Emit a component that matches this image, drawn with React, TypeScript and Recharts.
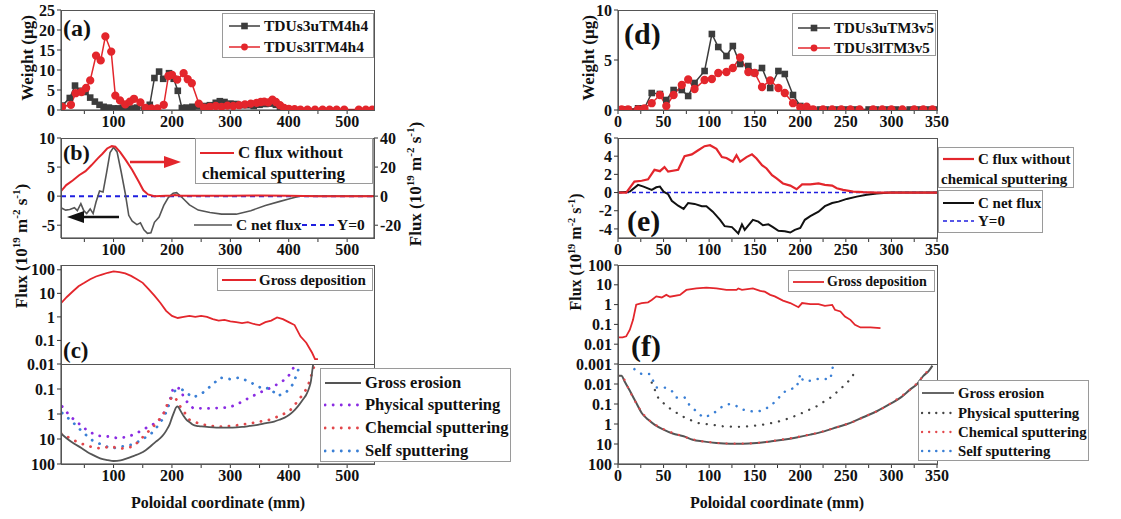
import React from 'react'
import { LineChart, Line, XAxis, YAxis } from 'recharts'

// ---------- panel (a): collected weight ----------
const aBlackX = [12, 25, 34, 43, 52, 60, 68, 76, 83, 92, 100, 108, 116, 125, 133, 140, 153, 162, 170, 178, 185, 195, 203, 210, 217, 225, 235, 245, 255, 265, 275, 282, 290, 300, 310, 320, 330, 340, 350, 360, 370, 378, 385, 395]
const aBlackY = [1.1, 3.0, 6.1, 4.8, 4.5, 3.1, 2.1, 1.3, 0.8, 0.6, 0.4, 0.4, 0.6, 0.3, 0.4, 0.6, 0.4, 1.3, 8.0, 9.6, 7.8, 9.2, 7.8, 4.8, 0.5, 0.6, 0.8, 0.9, 1.0, 1.2, 1.8, 2.2, 2.0, 1.6, 1.5, 1.2, 1.2, 1.0, 1.3, 1.5, 1.6, 1.3, 0.8, 0.3]
const aRedX = [12, 27, 35, 45, 53, 60, 70, 78, 86, 96, 103, 111, 120, 128, 135, 146, 155, 165, 175, 186, 194, 200, 209, 220, 227, 234, 246, 255, 265, 275, 285, 295, 305, 315, 325, 335, 345, 352, 358, 365, 372, 378, 385, 392, 400, 410, 420, 432, 445, 458, 470, 482, 495, 520, 532, 543]
const aRedY = [0.8, 1.3, 4.2, 4.5, 5.5, 7.4, 13.6, 12.4, 18.4, 14.6, 3.6, 2.4, 1.4, 2.1, 2.8, 1.9, 0.5, 0.4, 0.4, 1.3, 8.5, 8.8, 7.6, 9.2, 7.7, 6.7, 1.6, 0.6, 0.8, 1.0, 0.8, 1.1, 1.0, 1.2, 1.4, 1.6, 1.8, 2.0, 2.1, 1.9, 2.6, 2.0, 1.2, 0.5, 0.3, 0.2, 0.1, 0.1, 0.1, 0.1, 0.1, 0.1, 0.1, 0.1, 0.1, 0.1]

// ---------- panel (b): fluxes ----------
const bRedX = [10, 19, 30, 41, 52, 62, 73, 81, 89, 97, 103, 111, 121, 132, 143, 151, 159, 170, 200, 205, 215, 250, 300, 350, 400, 450, 500, 546]
const bRedY = [3.4, 7.6, 10.8, 14.4, 17.2, 21.2, 26, 29.2, 32.8, 34.4, 34, 30.4, 24.8, 18, 10, 4, 1.2, 0, 0.4, 0.8, 0.3, 0.2, 0.3, 0.5, 0.2, 0, 0, 0]
const bNetX = [10, 18, 25, 33, 38, 44, 49, 54, 60, 65, 70, 76, 82, 88, 94, 100, 106, 113, 120, 126, 132, 140, 146, 152, 158, 164, 170, 178, 186, 194, 202, 208, 216, 230, 245, 265, 285, 310, 335, 360, 385, 400, 418, 450, 500, 546]
const bNetY = [-2.0, -2.4, -2.3, -2.0, -2.5, -1.3, -2.5, -3.0, -2.2, -3.0, -1.0, 0.9, 0.7, 4.0, 7.5, 8.4, 7.6, 4.2, 0.5, -3.3, -4.3, -4.9, -4.6, -5.8, -6.4, -6.3, -4.5, -3.6, -1.6, -0.2, 0.5, 0.6, -0.1, -1.5, -2.4, -2.8, -3.1, -3.1, -2.5, -1.6, -0.9, -0.5, 0, 0, 0, 0]
const bZeroX = [10, 546]
const bZeroY = [0, 0]

// ---------- panel (c): deposition / erosion ----------
const cDepX = [10, 20, 30, 40, 50, 60, 70, 80, 90, 100, 110, 120, 130, 140, 150, 160, 170, 180, 190, 200, 210, 220, 230, 240, 250, 260, 270, 280, 290, 300, 310, 320, 330, 340, 350, 360, 370, 380, 390, 400, 410, 420, 430, 440, 445, 450]
const cDepY = [3.8, 7, 12, 20, 28, 40, 52, 63, 75, 85, 80, 70, 55, 40, 28, 15, 8, 4, 1.8, 1.1, 0.9, 1.0, 1.1, 1.0, 1.1, 1.0, 0.8, 0.7, 0.75, 0.65, 0.6, 0.55, 0.6, 0.5, 0.45, 0.6, 0.7, 0.95, 0.8, 0.6, 0.45, 0.15, 0.08, 0.03, 0.016, 0.016]
const cEroX = [10, 20, 32, 45, 55, 65, 77, 90, 100, 112, 123, 135, 145, 155, 163, 172, 180, 186, 191, 196, 200, 204, 207, 210, 214, 220, 225, 231, 236, 242, 248, 260, 276, 290, 304, 320, 333, 347, 361, 375, 384, 393, 401, 410, 418, 425, 430, 435, 438, 441, 444]
const cEroY = [6, 9.5, 15, 23, 33, 44, 60, 70, 76, 72, 60, 47, 38, 28, 20, 13, 9.3, 6.5, 4.3, 2.6, 1.4, 0.8, 0.55, 0.5, 0.7, 1.2, 1.7, 2.2, 2.7, 3.0, 3.1, 3.3, 3.5, 3.5, 3.5, 3.3, 3.0, 2.7, 2.3, 2.0, 1.7, 1.4, 1.07, 0.7, 0.42, 0.25, 0.17, 0.09, 0.048, 0.014, 0.005]
const cPhysX = [12, 26, 43, 57, 74, 92, 108, 126, 145, 160, 177, 188, 196, 202, 208, 214, 222, 236, 259, 282, 299, 316, 333, 350, 367, 384, 398, 410, 418]
const cPhysY = [0.5, 1.26, 2.7, 5, 7.5, 8, 9.3, 8, 5, 3.2, 2.0, 0.78, 0.31, 0.093, 0.085, 0.1, 0.26, 0.58, 0.6, 0.57, 0.54, 0.36, 0.22, 0.14, 0.094, 0.059, 0.035, 0.012, 0.006]
const cChemX = [10, 20, 40, 60, 77, 94, 114, 134, 151, 168, 185, 194, 202, 207, 214, 230, 248, 265, 282, 304, 327, 347, 367, 384, 401, 418, 432, 441, 446]
const cChemY = [6, 8, 14, 20, 24, 20, 24, 20, 8, 3.2, 1.07, 0.31, 0.19, 0.25, 0.49, 1.7, 2.5, 3.0, 3.2, 3.0, 2.5, 2.1, 1.7, 1.2, 0.78, 0.26, 0.088, 0.019, 0.008]
const cSelfX = [12, 29, 46, 63, 80, 97, 114, 131, 148, 165, 180, 191, 199, 205, 216, 236, 253, 270, 282, 299, 316, 330, 341, 356, 367, 381, 395, 407, 415, 420]
const cSelfY = [0.91, 2, 5, 11, 17, 24, 20, 17, 11, 5.9, 2.3, 0.78, 0.22, 0.12, 0.1, 0.22, 0.14, 0.065, 0.035, 0.04, 0.035, 0.048, 0.065, 0.1, 0.09, 0.19, 0.14, 0.065, 0.022, 0.008]

// ---------- panel (d): collected weight ----------
const dBlackX = [4, 11, 22, 29, 37, 46, 53, 61, 70, 77, 84, 95, 103, 110, 119, 126, 134, 143, 150, 158, 167, 176, 183, 192, 200, 207, 214, 222, 228, 240, 250, 260, 275, 283, 295, 305, 320, 330, 340, 350]
const dBlackY = [0.07, 0.07, 0.17, 0.17, 1.7, 1.6, 1.0, 2.0, 2.0, 1.4, 2.7, 3.9, 7.6, 6.3, 5.4, 6.4, 4.6, 4.4, 3.7, 4.2, 2.2, 3.9, 3.6, 1.5, 0.4, 0.17, 0.07, 0.05, 0.05, 0.05, 0.05, 0.05, 0.05, 0.05, 0.05, 0.05, 0.05, 0.05, 0.05, 0.05]
const dRedX = [4, 11, 22, 29, 37, 46, 53, 61, 70, 77, 84, 95, 103, 110, 119, 126, 134, 143, 150, 158, 167, 176, 183, 192, 200, 207, 214, 225, 235, 245, 255, 265, 280, 290, 300, 312, 325, 335, 345]
const dRedY = [0.07, 0.07, 0.07, 0.17, 0.68, 1.5, 0.4, 1.5, 2.5, 3.05, 2.1, 3.0, 3.1, 3.7, 3.8, 4.2, 5.25, 3.8, 3.7, 2.3, 2.95, 2.2, 1.7, 0.68, 0.27, 0.34, 0.07, 0.05, 0.05, 0.05, 0.05, 0.05, 0.05, 0.05, 0.05, 0.05, 0.05, 0.05, 0.05]

// ---------- panel (e): fluxes ----------
const eRedX = [0, 9, 18, 26, 33, 40, 46, 51, 55, 66, 73, 81, 88, 95, 101, 108, 114, 119, 126, 130, 134, 141, 147, 152, 158, 163, 169, 174, 181, 189, 196, 202, 211, 220, 227, 235, 240, 247, 258, 269, 284, 300, 350]
const eRedY = [0, 0, 1.2, 1.3, 1.45, 2.5, 2.35, 2.8, 2.3, 2.5, 4.0, 4.2, 4.65, 5.1, 5.2, 4.8, 3.9, 3.8, 3.4, 4.1, 3.4, 3.9, 4.2, 3.75, 3.0, 2.65, 1.9, 1.55, 1.0, 0.76, 0.36, 0.9, 0.9, 1.0, 0.84, 0.76, 0.47, 0.3, 0.1, 0.04, 0, 0, 0]
const eNetX = [0, 13, 22, 28, 37, 42, 46, 50, 55, 59, 66, 72, 77, 84, 92, 97, 104, 112, 117, 125, 132, 136, 139, 148, 154, 159, 165, 170, 176, 183, 189, 194, 200, 205, 211, 220, 227, 235, 242, 251, 262, 273, 284, 299, 350]
const eNetY = [0, 0.1, 0.84, 0.65, 0.3, 0.58, 0.65, 0.1, -0.18, -0.9, -1.45, -1.8, -1.15, -1.25, -1.5, -1.5, -2.1, -3.0, -3.7, -3.8, -4.5, -3.5, -4.1, -3.0, -3.2, -3.6, -3.5, -3.8, -4.2, -4.25, -4.4, -4.1, -3.9, -3.0, -2.6, -2.1, -1.5, -1.15, -1.0, -0.7, -0.45, -0.25, -0.1, 0, 0]
const eZeroX = [0, 350]
const eZeroY = [0, 0]

// ---------- panel (f): deposition / erosion ----------
const fDepX = [0, 5, 9, 13, 16.5, 20, 26, 33, 37, 42, 48, 53, 57, 68, 75, 86, 97, 108, 119, 130, 132, 136, 148, 156, 161, 167, 172, 181, 189, 198, 202, 211, 220, 227, 235, 238, 244, 249, 255, 260, 266, 277, 288]
const fDepY = [0.022, 0.022, 0.025, 0.054, 0.17, 1.0, 1.2, 1.3, 1.7, 2.6, 2.3, 3.1, 2.5, 3.1, 5.5, 6.6, 7.2, 6.6, 5.5, 5.5, 6.5, 5.5, 6.6, 4.9, 4.5, 3.1, 2.6, 1.6, 1.2, 0.74, 1.2, 1.05, 1.05, 0.86, 0.97, 0.55, 0.45, 0.25, 0.17, 0.096, 0.07, 0.07, 0.065]
const fEroX = [0, 4, 7, 13, 20, 26, 33, 40, 50, 60, 72, 82, 93, 108, 123, 137, 152, 167, 181, 196, 211, 225, 240, 255, 269, 284, 299, 310, 321, 328, 335, 341, 345]
const fEroY = [0.0039, 0.0039, 0.007, 0.022, 0.087, 0.28, 0.6, 1.07, 1.9, 3.0, 4.1, 6.1, 7.4, 9, 9.8, 9.8, 9, 7.4, 6.1, 4.7, 3.4, 2.4, 1.46, 0.88, 0.46, 0.23, 0.097, 0.048, 0.018, 0.0103, 0.0039, 0.0022, 0.0012]
const fChemX = [0, 5, 10, 15, 22, 30, 40, 52, 65, 78, 90, 103, 116, 129, 142, 155, 168, 181, 194, 207, 220, 233, 246, 259, 272, 285, 298, 311, 324, 335, 343]
const fChemY = [0.0039, 0.0045, 0.012, 0.035, 0.13, 0.42, 1.0, 2.0, 3.3, 5.2, 7, 8.3, 9.3, 9.6, 9.5, 8.6, 7.3, 5.9, 4.7, 3.6, 2.7, 1.8, 1.2, 0.75, 0.4, 0.22, 0.1, 0.04, 0.014, 0.0039, 0.0015]
const fPhysX = [37, 44, 53, 64, 75, 88, 101, 115, 130, 145, 159, 174, 189, 203, 218, 233, 244, 255, 262]
const fPhysY = [0.0085, 0.048, 0.126, 0.27, 0.53, 0.89, 1.07, 1.3, 1.4, 1.3, 1.07, 0.8, 0.5, 0.27, 0.13, 0.048, 0.018, 0.0058, 0.0018]
const fSelfX = [18, 26, 35, 42, 51, 59, 64, 73, 79, 86, 93, 101, 108, 115, 123, 130, 137, 145, 152, 159, 167, 174, 181, 189, 196, 200, 203, 211, 218, 225, 233, 236]
const fSelfY = [0.0018, 0.0032, 0.0032, 0.015, 0.015, 0.022, 0.048, 0.046, 0.126, 0.23, 0.46, 0.37, 0.23, 0.126, 0.098, 0.126, 0.19, 0.23, 0.24, 0.21, 0.126, 0.066, 0.027, 0.018, 0.015, 0.0032, 0.0069, 0.0069, 0.0057, 0.0057, 0.0057, 0.0012]

// ---------- ticks ----------
const leftXTicks = [50, 100, 150, 200, 250, 300, 350, 400, 450, 500]
const rightXTicks = [0, 25, 50, 75, 100, 125, 150, 175, 200, 225, 250, 275, 300, 325, 350]
const aYTicks = [0, 5, 10, 15, 20, 25]
const bLeftTicks = [-5, 0, 5, 10]
const bRightTicks = [-20, 0, 20, 40]
const cUpTicks = [0.01, 0.1, 1, 10, 100]
const cLowTicks = [0.1, 1, 10, 100]
const dYTicks = [0, 5, 10]
const eYTicks = [-4, -2, 0, 2, 4, 6]
const fUpTicks = [0.001, 0.01, 0.1, 1, 10, 100]
const fLowTicks = [0.01, 0.1, 1, 10, 100]

const FONT = '"Liberation Serif", "Times New Roman", serif'
const RED = '#e3262c'
const DARK = '#3c3c3c'
const BLUE = '#1f1fe0'
const PURPLE = '#8a2be2'
const LBLUE = '#3a7fd5'

const tick = { fill: '#111', fontFamily: FONT, fontWeight: 700, fontSize: 16 }
const ax = { tick, tickSize: 4, stroke: '#333', interval: 0 as const, allowDataOverflow: true }
const fmtL = (v: number) => (v % 100 === 0 ? String(v) : '')
const fmtR = (v: number) => (v % 50 === 0 ? String(v) : '')
const pts = (xs: number[], ys: number[]) => xs.map((x, i) => ({ x, y: ys[i] }))
const dotted = { strokeDasharray: '0.1 8', strokeLinecap: 'round' as const, strokeWidth: 2.8 }

const square = (color: string) => (p: any) => (
  <rect key={`sq-${p.index}`} x={p.cx - 3.3} y={p.cy - 3.3} width={6.6} height={6.6} fill={color} />
)

const Pos = ({ l, t, children }: { l: number; t: number; children: React.ReactNode }) => (
  <div style={{ position: 'absolute', left: l, top: t }}>{children}</div>
)

const Frame = ({ l, t, w, h }: { l: number; t: number; w: number; h: number }) => (
  <div style={{ position: 'absolute', left: l, top: t, width: w + 1, height: h + 1, border: '1px solid #555', boxSizing: 'border-box', pointerEvents: 'none' }} />
)

type Sample = { color: string; width?: number; dash?: string; round?: boolean; marker?: 'square' | 'circle' }
type Row = { text: string; sample?: Sample; textLeft?: number }

function Legend({ l, t, w, h, rows, rowY, sampleL, sampleW, textL, size, border = true }: {
  l: number; t: number; w: number; h: number; rows: Row[]; rowY: number[]; sampleL: number; sampleW: number; textL: number; size: number; border?: boolean
}) {
  return (
    <div style={{ position: 'absolute', left: l, top: t, width: w, height: h, border: border ? '1px solid #9a9a9a' : 'none', boxSizing: 'border-box', background: border ? '#fff' : 'transparent' }}>
      {rows.map((r, i) => (
        <div key={i} style={{ position: 'absolute', left: 0, top: rowY[i] - 10, height: 20, width: '100%' }}>
          {r.sample && (
            <svg style={{ position: 'absolute', left: sampleL, top: 0 }} width={sampleW} height={20}>
              <line x1={1} x2={sampleW - 1} y1={10} y2={10} stroke={r.sample.color} strokeWidth={r.sample.width ?? 2}
                strokeDasharray={r.sample.dash} strokeLinecap={r.sample.round ? 'round' : 'butt'} />
              {r.sample.marker === 'square' && <rect x={sampleW / 2 - 3.3} y={6.7} width={6.6} height={6.6} fill={r.sample.color} />}
              {r.sample.marker === 'circle' && <circle cx={sampleW / 2} cy={10} r={3.4} fill={r.sample.color} />}
            </svg>
          )}
          <span style={{ position: 'absolute', left: r.textLeft ?? textL, top: 0, lineHeight: '20px', fontSize: size, fontWeight: 700, whiteSpace: 'nowrap' }}>{r.text}</span>
        </div>
      ))}
    </div>
  )
}

const Tag = ({ x, y, size, children }: { x: number; y: number; size: number; children: React.ReactNode }) => (
  <div style={{ position: 'absolute', left: x, top: y - size / 2, fontSize: size, lineHeight: `${size}px`, fontWeight: 700 }}>{children}</div>
)

const VTitle = ({ x, y, size = 17, children }: { x: number; y: number; size?: number; children: React.ReactNode }) => (
  <div style={{ position: 'absolute', left: x, top: y, transform: 'translate(-50%,-50%) rotate(-90deg)', whiteSpace: 'nowrap', fontSize: size, fontWeight: 700, lineHeight: 1 }}>{children}</div>
)

const HTitle = ({ x, y, children }: { x: number; y: number; children: React.ReactNode }) => (
  <div style={{ position: 'absolute', left: x, top: y, transform: 'translate(-50%,-50%)', whiteSpace: 'nowrap', fontSize: 16, fontWeight: 700 }}>{children}</div>
)

const FluxUnit = () => (
  <span>Flux (10<sup style={{ fontSize: '0.65em' }}>19</sup> m<sup style={{ fontSize: '0.65em' }}>-2</sup> s<sup style={{ fontSize: '0.65em' }}>-1</sup>)</span>
)

export default function App() {
  const noAnim = { isAnimationActive: false }
  return (
    <div style={{ position: 'absolute', left: 0, top: 0, width: 1121, height: 519, background: '#fff', fontFamily: FONT, color: '#111', overflow: 'hidden' }}>
      {/* ===== left column ===== */}
      <Pos l={11} t={0}>
        <LineChart width={378} height={140} margin={{ top: 10, right: 15, bottom: 0, left: 0 }}>
          <XAxis type="number" dataKey="x" domain={[10, 546]} ticks={leftXTicks} tickFormatter={fmtL} height={30} {...ax} />
          <YAxis type="number" domain={[0, 25]} ticks={aYTicks} width={50} {...ax} />
          <Line data={pts(aBlackX, aBlackY)} dataKey="y" stroke={DARK} strokeWidth={1.5} dot={square(DARK)} {...noAnim} />
          <Line data={pts(aRedX, aRedY)} dataKey="y" stroke={RED} strokeWidth={1.5} dot={{ r: 3.4, fill: RED, stroke: RED }} {...noAnim} />
        </LineChart>
      </Pos>
      <Frame l={61} t={10} w={313} h={100} />

      <Pos l={11} t={128}>
        <LineChart width={403} height={140} margin={{ top: 10, right: 0, bottom: 0, left: 0 }}>
          <XAxis type="number" dataKey="x" domain={[10, 546]} ticks={leftXTicks} tickFormatter={fmtL} height={30} {...ax} />
          <YAxis yAxisId="l" type="number" domain={[-7.2, 10]} ticks={bLeftTicks} width={50} {...ax} />
          <YAxis yAxisId="r" orientation="right" type="number" domain={[-28.8, 40]} ticks={bRightTicks} width={40} {...ax} />
          <Line yAxisId="l" data={pts(bZeroX, bZeroY)} dataKey="y" stroke={BLUE} strokeWidth={2} strokeDasharray="5 4" dot={false} {...noAnim} />
          <Line yAxisId="l" data={pts(bNetX, bNetY)} dataKey="y" stroke="#555" strokeWidth={1.6} dot={false} {...noAnim} />
          <Line yAxisId="r" data={pts(bRedX, bRedY)} dataKey="y" stroke={RED} strokeWidth={2} dot={false} {...noAnim} />
        </LineChart>
      </Pos>
      <Frame l={61} t={138} w={313} h={100} />

      <Pos l={11} t={255}>
        <LineChart width={378} height={119} margin={{ top: 10, right: 15, bottom: 10, left: 0 }}>
          <XAxis type="number" dataKey="x" domain={[10, 546]} hide allowDataOverflow />
          <YAxis type="number" scale="log" domain={[0.01, 160]} ticks={cUpTicks} width={50} {...ax} />
          <Line data={pts(cDepX, cDepY)} dataKey="y" stroke={RED} strokeWidth={1.8} dot={false} {...noAnim} />
        </LineChart>
      </Pos>
      <Frame l={61} t={265} w={313} h={99} />

      <Pos l={11} t={354}>
        <LineChart width={378} height={140} margin={{ top: 10, right: 15, bottom: 0, left: 0 }}>
          <XAxis type="number" dataKey="x" domain={[10, 546]} ticks={leftXTicks} tickFormatter={fmtL} height={30} {...ax} />
          <YAxis type="number" scale="log" reversed domain={[0.01, 100]} ticks={cLowTicks} width={50} {...ax} />
          <Line data={pts(cPhysX, cPhysY)} dataKey="y" stroke={PURPLE} {...dotted} dot={false} {...noAnim} />
          <Line data={pts(cSelfX, cSelfY)} dataKey="y" stroke={LBLUE} {...dotted} dot={false} {...noAnim} />
          <Line data={pts(cChemX, cChemY)} dataKey="y" stroke="#e2474b" {...dotted} dot={false} {...noAnim} />
          <Line data={pts(cEroX, cEroY)} type="monotone" dataKey="y" stroke="#555" strokeWidth={1.8} dot={false} {...noAnim} />
        </LineChart>
      </Pos>
      <Frame l={61} t={364} w={313} h={100} />

      {/* ===== right column ===== */}
      <Pos l={568} t={0}>
        <LineChart width={384} height={140} margin={{ top: 10, right: 15, bottom: 0, left: 0 }}>
          <XAxis type="number" dataKey="x" domain={[0, 350]} ticks={rightXTicks} tickFormatter={fmtR} height={30} {...ax} />
          <YAxis type="number" domain={[0, 10]} ticks={dYTicks} width={50} {...ax} />
          <Line data={pts(dBlackX, dBlackY)} dataKey="y" stroke={DARK} strokeWidth={1.5} dot={square(DARK)} {...noAnim} />
          <Line data={pts(dRedX, dRedY)} dataKey="y" stroke={RED} strokeWidth={1.5} dot={{ r: 3.4, fill: RED, stroke: RED }} {...noAnim} />
        </LineChart>
      </Pos>
      <Frame l={618} t={10} w={319} h={100} />

      <Pos l={568} t={128}>
        <LineChart width={384} height={140} margin={{ top: 10, right: 15, bottom: 0, left: 0 }}>
          <XAxis type="number" dataKey="x" domain={[0, 350]} ticks={rightXTicks} tickFormatter={fmtR} height={30} {...ax} />
          <YAxis type="number" domain={[-5, 6]} ticks={eYTicks} width={50} {...ax} />
          <Line data={pts(eZeroX, eZeroY)} dataKey="y" stroke={BLUE} strokeWidth={1.6} strokeDasharray="4 3" dot={false} {...noAnim} />
          <Line data={pts(eNetX, eNetY)} dataKey="y" stroke="#111" strokeWidth={2} dot={false} {...noAnim} />
          <Line data={pts(eRedX, eRedY)} dataKey="y" stroke={RED} strokeWidth={2.2} dot={false} {...noAnim} />
        </LineChart>
      </Pos>
      <Frame l={618} t={138} w={319} h={100} />

      <Pos l={568} t={255}>
        <LineChart width={384} height={119} margin={{ top: 10, right: 15, bottom: 10, left: 0 }}>
          <XAxis type="number" dataKey="x" domain={[0, 350]} hide allowDataOverflow />
          <YAxis type="number" scale="log" domain={[0.001, 100]} ticks={fUpTicks} width={50} {...ax} />
          <Line data={pts(fDepX, fDepY)} dataKey="y" stroke={RED} strokeWidth={1.8} dot={false} {...noAnim} />
        </LineChart>
      </Pos>
      <Frame l={618} t={265} w={319} h={99} />

      <Pos l={568} t={354}>
        <LineChart width={384} height={140} margin={{ top: 10, right: 15, bottom: 0, left: 0 }}>
          <XAxis type="number" dataKey="x" domain={[0, 350]} ticks={rightXTicks} tickFormatter={fmtR} height={30} {...ax} />
          <YAxis type="number" scale="log" reversed domain={[0.001, 100]} ticks={fLowTicks} width={50} {...ax} />
          <Line data={pts(fPhysX, fPhysY)} dataKey="y" stroke="#444" {...dotted} strokeWidth={2.3} dot={false} {...noAnim} />
          <Line data={pts(fSelfX, fSelfY)} dataKey="y" stroke={LBLUE} {...dotted} strokeWidth={2.5} dot={false} {...noAnim} />
          <Line data={pts(fEroX, fEroY)} type="monotone" dataKey="y" stroke="#555" strokeWidth={2} dot={false} {...noAnim} />
          <Line data={pts(fChemX, fChemY)} type="monotone" dataKey="y" stroke="#e2474b" {...dotted} strokeWidth={2.2} dot={false} {...noAnim} />
        </LineChart>
      </Pos>
      <Frame l={618} t={364} w={319} h={100} />

      {/* ===== arrows in (b) ===== */}
      <svg style={{ position: 'absolute', left: 0, top: 0, pointerEvents: 'none' }} width={1121} height={519}>
        <line x1={130} y1={162} x2={166} y2={162} stroke={RED} strokeWidth={2.5} />
        <polygon points="164,156 181,162 164,168" fill={RED} />
        <line x1={119} y1={217} x2={82} y2={217} stroke="#111" strokeWidth={2.5} />
        <polygon points="84,211 67,217 84,223" fill="#111" />
      </svg>

      {/* ===== legends ===== */}
      <Legend l={222} t={13} w={152} h={45} size={15.5} sampleL={5} sampleW={33} textL={41} rowY={[12, 33]}
        rows={[
          { text: 'TDUs3uTM4h4', sample: { color: DARK, width: 1.5, marker: 'square' } },
          { text: 'TDUs3lTM4h4', sample: { color: RED, width: 1.5, marker: 'circle' } },
        ]} />
      <Legend l={195} t={138} w={178} h={46} size={17} sampleL={3} sampleW={36} textL={42} rowY={[14, 35]}
        rows={[
          { text: 'C flux without', sample: { color: RED, width: 2 } },
          { text: 'chemical sputtering', textLeft: 6 },
        ]} />
      <Legend l={190} t={215} w={110} h={22} size={15.5} sampleL={3} sampleW={40} textL={46} rowY={[10]} border={false}
        rows={[{ text: 'C net flux', sample: { color: '#555', width: 1.6 } }]} />
      <Legend l={300} t={215} w={70} h={22} size={15.5} sampleL={1} sampleW={35} textL={37} rowY={[10]} border={false}
        rows={[{ text: 'Y=0', sample: { color: BLUE, width: 2, dash: '5 4' } }]} />
      <Legend l={217} t={268} w={156} h={23} size={15} sampleL={3} sampleW={36} textL={41} rowY={[11]}
        rows={[{ text: 'Gross deposition', sample: { color: RED, width: 1.8 } }]} />
      <Legend l={320} t={368} w={191} h={94} size={16.5} sampleL={3} sampleW={38} textL={44} rowY={[14, 36, 59, 82]}
        rows={[
          { text: 'Gross erosion', sample: { color: '#555', width: 1.8 } },
          { text: 'Physical sputtering', sample: { color: PURPLE, width: 2.8, dash: '0.1 8', round: true } },
          { text: 'Chemcial sputtering', sample: { color: '#e2474b', width: 2.8, dash: '0.1 8', round: true } },
          { text: 'Self sputtering', sample: { color: LBLUE, width: 2.8, dash: '0.1 8', round: true } },
        ]} />

      <Legend l={792} t={13} w={144} h={43} size={15} sampleL={4} sampleW={34} textL={41} rowY={[14, 34]}
        rows={[
          { text: 'TDUs3uTM3v5', sample: { color: DARK, width: 1.5, marker: 'square' } },
          { text: 'TDUs3lTM3v5', sample: { color: RED, width: 1.5, marker: 'circle' } },
        ]} />
      <Legend l={938} t={147} w={136} h={41} size={15} sampleL={3} sampleW={33} textL={39} rowY={[11, 31]}
        rows={[
          { text: 'C flux without', sample: { color: RED, width: 2.2 } },
          { text: 'chemical sputtering', textLeft: 2 },
        ]} />
      <Legend l={938} t={190} w={105} h={43} size={15} sampleL={3} sampleW={33} textL={39} rowY={[12, 30]}
        rows={[
          { text: 'C net flux', sample: { color: '#111', width: 2 } },
          { text: 'Y=0', sample: { color: BLUE, width: 1.6, dash: '4 3' } },
        ]} />
      <Legend l={788} t={270} w={147} h={22} size={14} sampleL={3} sampleW={33} textL={38} rowY={[10.5]}
        rows={[{ text: 'Gross deposition', sample: { color: RED, width: 1.8 } }]} />
      <Legend l={918} t={380} w={171} h={81} size={14.8} sampleL={2} sampleW={34} textL={39} rowY={[12, 32, 51, 70]}
        rows={[
          { text: 'Gross erosion', sample: { color: '#555', width: 1.8 } },
          { text: 'Physical sputtering', sample: { color: '#444', width: 2.3, dash: '0.1 7', round: true } },
          { text: 'Chemical sputtering', sample: { color: '#e2474b', width: 2.3, dash: '0.1 7', round: true } },
          { text: 'Self sputtering', sample: { color: LBLUE, width: 2.5, dash: '0.1 7', round: true } },
        ]} />

      {/* ===== panel tags ===== */}
      <Tag x={63} y={28} size={24}>(a)</Tag>
      <Tag x={63} y={153} size={22}>(b)</Tag>
      <Tag x={63} y={350} size={23}>(c)</Tag>
      <Tag x={624} y={34} size={30}>(d)</Tag>
      <Tag x={627} y={221} size={30}>(e)</Tag>
      <Tag x={631} y={346} size={30}>(f)</Tag>

      {/* ===== axis titles ===== */}
      <VTitle x={27} y={58}>Weight (μg)</VTitle>
      <VTitle x={588} y={58}>Weight (μg)</VTitle>
      <VTitle x={20} y={246}><FluxUnit /></VTitle>
      <VTitle x={414} y={184}><FluxUnit /></VTitle>
      <VTitle x={576} y={252} size={16}><FluxUnit /></VTitle>
      <HTitle x={218} y={503}>Poloidal coordinate (mm)</HTitle>
      <HTitle x={777} y={503}>Poloidal coordinate (mm)</HTitle>
    </div>
  )
}
